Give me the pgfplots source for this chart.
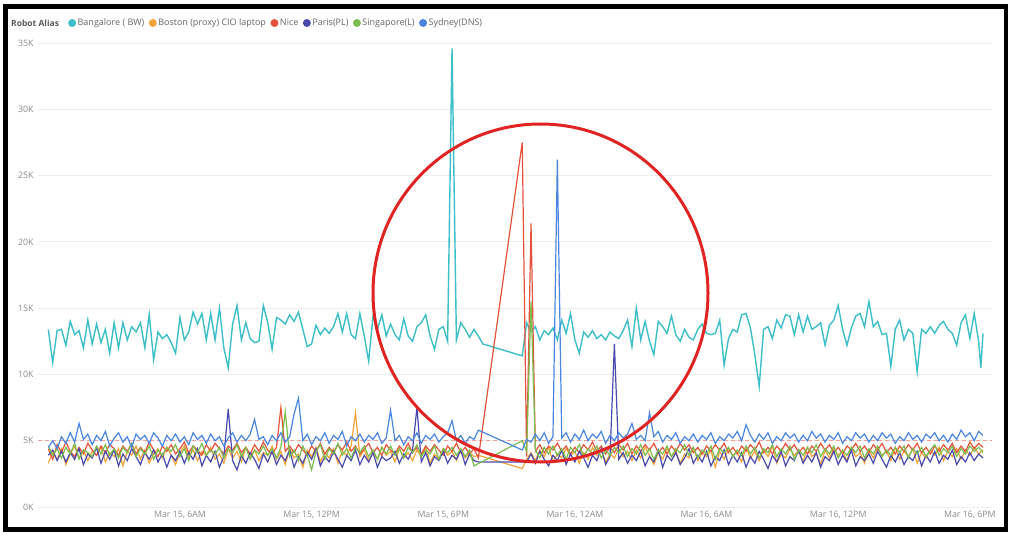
\documentclass[border=0pt]{standalone}
\usepackage{fontspec}
\setmainfont{Open Sans}
\usepackage{pgfplots}
\usepackage{pgfplotstable}
\pgfplotsset{compat=1.18}
\definecolor{cBang}{HTML}{3CBFC8}
\definecolor{cBos}{HTML}{F3A43B}
\definecolor{cNice}{HTML}{E5533C}
\definecolor{cPar}{HTML}{4A4AAE}
\definecolor{cSin}{HTML}{7CBD4F}
\definecolor{cSyd}{HTML}{4A86E0}
\definecolor{cRing}{HTML}{E02424}
\definecolor{cRef}{HTML}{F2A09A}

\pgfplotstableread{
t b o n p s y
0.0 13.4 3.3 4.4 3.9 4.6 4.5
0.2 10.9 4.1 3.6 4.3 3.9 5.0
0.4 13.3 3.6 4.7 3.5 4.4 4.4
0.6 13.4 4.4 4.1 4.2 3.7 5.3
0.8 12.2 3.2 4.9 3.4 4.5 4.8
1.0 14.0 4.0 4.2 4.1 4.0 5.6
1.2 13.0 4.6 3.8 3.6 4.8 4.9
1.4 13.3 3.7 4.5 4.4 3.6 6.3
1.6 12.0 4.3 4.0 3.2 4.3 5.1
1.8 14.1 3.5 4.8 4.0 4.1 5.5
2.0 12.3 4.2 4.3 3.7 3.8 4.7
2.2 13.8 3.9 3.9 4.5 4.6 5.4
2.4 12.4 4.5 4.6 3.3 4.0 5.0
2.6 13.4 3.4 4.1 4.2 4.7 5.7
2.8 11.6 4.1 4.7 3.6 3.9 4.6
3.0 13.9 3.8 4.4 4.3 4.4 5.2
3.2 12.0 4.4 3.9 3.1 3.7 5.6
3.4 13.9 3.1 4.6 4.0 4.5 4.9
3.6 12.6 4.2 4.2 3.5 4.1 5.3
3.8 13.6 3.9 4.8 4.4 4.8 4.5
4.0 13.2 4.6 4.0 3.8 3.8 5.5
4.2 13.9 3.6 4.5 3.2 4.4 5.1
4.4 12.0 4.3 4.1 4.1 4.0 5.4
4.6 14.5 3.3 4.9 3.6 4.6 4.8
4.8 11.1 4.0 4.3 4.3 3.6 5.6
5.0 13.2 4.4 3.8 3.4 4.3 5.2
5.2 12.7 3.7 4.6 4.0 3.9 4.6
5.4 13.0 4.5 4.2 3.0 4.5 5.4
5.6 12.4 3.9 4.7 3.9 4.2 5.0
5.8 11.6 3.2 4.0 3.5 4.7 5.5
6.0 14.3 4.1 4.4 4.2 3.8 4.9
6.2 12.6 4.6 4.9 3.3 4.4 5.3
6.4 13.2 3.8 4.1 4.1 3.5 4.7
6.6 14.7 4.3 4.6 3.6 4.6 5.6
6.8 13.8 3.5 4.3 4.4 4.1 5.1
7.0 14.6 4.2 3.9 3.1 4.8 5.4
7.2 12.6 3.9 4.7 3.9 3.9 4.8
7.4 14.6 4.5 4.2 3.4 4.3 5.5
7.6 12.6 3.6 4.8 4.2 4.0 5.0
7.8 15.0 4.0 4.4 3.0 4.5 5.3
8.0 12.0 3.3 4.0 3.8 3.7 4.6
8.2 10.5 4.4 4.6 7.4 4.4 5.2
8.4 13.8 3.7 4.3 3.5 4.1 5.6
8.6 15.2 4.2 4.8 2.8 4.7 4.9
8.8 12.6 3.4 4.1 3.9 3.8 5.4
9.0 13.9 4.5 4.5 3.3 4.5 5.0
9.2 12.7 3.8 4.0 4.1 3.6 5.5
9.4 12.4 4.3 4.7 3.6 4.3 6.6
9.6 12.5 3.5 4.2 2.9 4.0 5.1
9.8 15.2 4.1 4.9 4.0 4.6 5.3
10.0 13.9 3.9 4.3 3.4 3.9 4.7
10.2 11.9 4.6 4.0 4.2 4.4 5.4
10.4 14.3 3.6 4.5 3.2 3.7 5.0
10.6 14.1 4.2 7.5 3.9 4.5 5.6
10.8 13.8 3.2 4.2 3.5 7.2 4.9
11.0 14.5 4.4 4.6 4.3 3.8 5.3
11.2 14.0 3.7 4.1 3.0 4.3 7.0
11.4 14.7 4.0 4.7 3.8 3.5 8.2
11.6 13.4 3.0 4.3 3.3 4.6 5.0
11.8 12.1 4.3 3.9 4.1 3.9 5.5
12.0 12.3 3.8 4.6 3.6 2.8 4.7
12.2 13.7 4.5 4.2 4.4 4.2 5.3
12.4 13.0 3.4 4.8 3.1 4.7 5.0
12.6 13.5 4.1 4.0 3.8 3.6 5.6
12.8 13.1 3.7 4.5 3.4 4.4 4.8
13.0 13.6 4.4 4.1 4.2 4.0 5.4
13.2 14.6 3.3 4.7 3.6 4.8 5.1
13.4 13.2 4.2 4.3 3.0 3.9 5.7
13.6 14.6 3.9 4.9 3.9 4.4 4.6
13.8 13.0 4.6 4.2 3.5 3.7 5.3
14.0 12.7 7.1 4.6 4.3 4.5 5.0
14.2 14.6 3.8 4.0 3.2 4.1 5.5
14.4 12.9 4.3 4.4 3.9 4.6 4.9
14.6 11.0 3.5 4.8 3.4 3.8 5.4
14.8 14.4 4.1 4.1 4.1 4.3 5.1
15.0 13.4 3.6 4.5 3.0 3.6 5.6
15.2 14.5 4.5 3.9 3.8 4.5 4.8
15.4 12.9 3.9 4.7 3.5 4.0 5.2
15.6 13.8 4.2 4.3 3.7 4.6 7.3
15.8 13.0 3.4 4.0 4.2 3.9 5.0
16.0 12.6 4.4 4.6 3.3 4.4 5.4
16.2 14.2 3.7 4.2 4.0 3.7 4.7
16.4 12.9 4.1 4.8 3.6 4.5 5.3
16.6 12.5 3.5 4.1 4.3 4.1 5.0
16.8 13.6 4.3 4.5 7.5 4.7 5.6
17.0 13.9 3.8 4.0 3.4 3.8 4.8
17.2 14.5 4.5 4.6 4.1 4.3 5.4
17.4 12.9 3.3 4.2 3.1 4.0 5.1
17.6 11.9 4.0 4.7 3.8 4.6 5.5
17.8 13.4 3.6 4.3 3.5 3.6 4.9
18.0 13.6 4.4 3.9 4.2 4.4 5.3
18.2 12.5 3.9 4.6 3.3 4.1 5.6
18.4 34.6 4.2 4.2 3.9 4.5 6.5
18.6 12.6 3.5 4.8 3.6 3.9 5.0
18.8 13.9 4.3 4.1 4.3 4.4 5.4
19.0 13.4 3.7 4.5 3.2 3.8 4.8
19.2 12.8 4.1 4.0 4.0 4.3 5.3
19.4 13.4 3.8 4.4 3.5 3.1 5.1
19.6 12.9 3.9 3.7 3.4 nan 5.8
19.8 12.3 nan nan nan nan nan
21.6 11.4 2.9 27.5 nan 5.0 4.3
21.8 13.9 3.6 3.8 3.4 4.2 5.1
22.0 13.2 4.1 21.4 4.0 15.5 4.9
22.2 13.6 3.5 4.2 3.3 4.3 5.5
22.4 12.6 4.3 4.7 4.2 3.7 5.0
22.6 13.3 3.8 4.1 3.6 4.5 5.6
22.8 13.0 4.5 4.6 3.1 4.0 4.8
23.0 13.5 3.4 4.3 3.9 4.6 5.3
23.2 12.6 4.0 4.8 3.5 3.9 26.2
23.4 14.1 3.7 4.2 4.3 4.4 5.2
23.6 13.1 4.4 4.6 3.2 3.6 5.6
23.8 14.6 3.9 4.0 4.0 4.5 4.9
24.0 12.6 4.2 4.5 3.4 4.1 5.5
24.2 11.6 3.3 4.1 4.2 4.7 5.1
24.4 13.2 4.1 4.7 3.7 3.8 5.8
24.6 12.8 3.6 4.3 3.0 4.4 5.0
24.8 13.3 4.5 4.9 3.9 4.0 5.5
25.0 12.7 3.9 4.2 3.5 4.6 5.2
25.2 13.0 4.3 4.6 4.4 3.7 5.7
25.4 12.6 3.4 4.0 3.2 4.3 4.8
25.6 13.2 4.0 4.5 3.8 3.9 5.4
25.8 12.9 3.7 4.1 12.3 4.5 5.0
26.0 12.7 4.4 4.7 3.6 4.1 5.6
26.2 13.3 3.8 4.3 4.1 4.6 5.2
26.4 14.1 4.2 4.8 3.3 3.8 5.5
26.6 12.1 3.5 4.0 3.9 4.4 6.3
26.8 15.0 4.3 4.6 3.5 4.0 5.1
27.0 12.6 3.7 4.2 4.2 4.7 5.4
27.2 14.0 4.5 4.7 3.1 3.9 5.0
27.4 12.5 3.9 4.3 3.8 4.4 7.1
27.6 11.5 3.2 4.8 3.4 3.6 5.3
27.8 14.0 4.1 4.1 4.3 4.3 5.7
28.0 13.6 3.6 4.5 3.0 4.0 4.9
28.2 13.1 4.4 4.0 3.9 4.6 5.4
28.4 14.4 3.8 4.6 3.5 3.8 5.1
28.6 13.0 4.2 4.2 4.1 4.4 5.6
28.8 12.5 3.3 4.8 3.2 4.1 4.8
29.0 13.4 4.0 4.3 3.7 4.7 5.3
29.2 12.8 3.7 4.7 4.4 3.9 5.0
29.4 12.6 4.5 4.1 3.3 4.5 5.5
29.6 13.4 3.5 4.5 3.9 3.7 4.9
29.8 13.8 4.1 4.0 3.4 4.3 5.4
30.0 13.1 3.8 4.6 4.2 4.0 5.1
30.2 13.0 4.3 4.2 3.1 4.6 5.6
30.4 13.1 3.0 4.7 3.8 3.6 4.8
30.6 14.1 4.2 4.3 3.5 4.4 5.3
30.8 10.7 3.6 4.8 4.3 4.1 5.0
31.0 12.7 4.4 4.1 3.2 4.5 5.5
31.2 13.4 3.9 4.5 3.9 3.8 5.2
31.4 13.2 4.1 4.0 3.4 4.3 5.7
31.6 14.5 3.4 4.6 4.1 3.9 5.0
31.8 14.6 4.5 4.2 3.0 4.6 6.2
32.0 13.5 3.7 4.7 3.8 4.0 5.4
32.2 11.5 4.2 4.3 3.3 4.5 4.9
32.4 9.1 3.5 4.9 4.2 3.7 5.5
32.6 13.4 4.3 4.1 3.6 4.4 5.1
32.8 13.6 3.8 4.5 2.9 4.1 5.6
33.0 12.7 4.6 4.0 3.9 4.7 4.8
33.2 14.1 3.3 4.6 3.4 3.8 5.3
33.4 13.5 4.0 4.2 4.2 4.4 5.0
33.6 14.5 3.7 4.8 3.1 4.0 5.6
33.8 14.4 4.4 4.3 3.8 4.6 5.2
34.0 13.0 3.9 4.7 3.5 3.6 5.5
34.2 14.5 4.2 4.1 4.3 4.3 4.9
34.4 13.2 3.4 4.5 3.3 3.9 5.4
34.6 14.4 4.5 4.0 3.9 4.5 5.0
34.8 13.4 3.8 4.6 3.4 4.1 5.7
35.0 13.6 4.1 4.2 4.1 4.7 5.2
35.2 13.9 3.2 4.8 3.0 3.8 5.5
35.4 12.2 4.3 4.3 3.8 4.4 4.9
35.6 13.7 3.7 4.7 3.5 4.0 5.4
35.8 14.1 4.4 4.1 4.2 4.6 5.1
36.0 15.2 3.9 4.5 3.2 3.7 5.6
36.2 13.4 4.2 4.0 3.9 4.3 4.8
36.4 12.2 3.5 4.6 3.4 3.9 5.3
36.6 13.5 4.5 4.3 4.3 4.5 5.0
36.8 14.4 3.8 4.8 3.1 4.1 5.6
37.0 14.6 4.1 4.2 3.8 4.6 5.2
37.2 13.6 3.3 4.6 3.5 3.7 5.5
37.4 15.5 4.3 4.1 4.0 4.4 4.9
37.6 13.6 3.7 4.7 3.3 4.0 5.4
37.8 14.0 4.4 4.3 4.2 4.6 5.0
38.0 13.0 3.9 4.8 3.6 3.8 5.6
38.2 13.1 4.2 4.1 3.0 4.3 5.2
38.4 10.6 3.5 4.5 3.9 3.9 5.5
38.6 13.4 4.5 4.0 3.4 4.5 4.8
38.8 14.1 3.6 4.6 4.1 4.1 5.3
39.0 12.6 4.2 4.2 3.2 4.6 5.0
39.2 13.4 3.8 4.7 3.8 3.7 5.6
39.4 13.1 4.4 4.3 3.5 4.4 5.1
39.6 10.2 3.3 4.8 4.2 4.0 5.4
39.8 13.4 4.1 4.1 3.1 4.5 4.9
40.0 13.1 3.7 4.5 3.9 3.8 5.5
40.2 13.6 4.3 4.0 3.4 4.3 5.2
40.4 13.1 3.9 4.6 4.2 4.7 5.6
40.6 13.7 4.5 4.2 3.3 3.9 5.0
40.8 14.0 3.5 4.7 3.9 4.4 5.4
41.0 13.4 4.2 4.3 3.6 4.1 4.9
41.2 13.1 3.8 4.8 4.3 4.6 5.5
41.4 12.2 4.4 4.1 3.2 3.8 5.1
41.6 13.9 3.6 4.6 3.8 4.4 5.8
41.8 14.5 4.3 4.2 3.4 4.0 5.3
42.0 12.7 3.9 4.9 4.1 4.6 5.6
42.2 14.6 4.5 4.4 3.5 4.2 5.0
42.4 12.5 4.0 4.8 4.0 4.5 5.7
42.5 10.5 nan nan nan nan nan
42.6 13.1 4.3 4.5 3.7 4.1 5.4
}\datatable

\begin{document}
\begin{tikzpicture}[x=1pt,y=1pt]
\useasboundingbox (0,0) rectangle (1017,536);
\fill[white] (0,0) rectangle (1017,536);
\node[anchor=west, inner sep=0pt, font=\bfseries\fontsize{8.5}{10}\selectfont, text=black!65] at (11,513) {Robot Alias};
\begin{axis}[
  at={(38pt,29pt)}, anchor=south west,
  scale only axis, width=954pt, height=464pt,
  xmin=-0.47, xmax=43.01, ymin=0, ymax=35,
  axis line style={draw=none},
  major tick length=0pt,
  ytick={0,5,10,15,20,25,30,35},
  yticklabels={0K,5K,10K,15K,20K,25K,30K,35K},
  xtick={6,12,18,24,30,36,42},
  xticklabels={{Mar 15, 6AM},{Mar 15, 12PM},{Mar 15, 6PM},{Mar 16, 12AM},{Mar 16, 6AM},{Mar 16, 12PM},{Mar 16, 6PM}},
  ymajorgrids,
  major grid style={color=black!7, line width=0.8pt},
  tick label style={font=\fontsize{8.8}{10}\selectfont, text=black!45},
  yticklabel style={xshift=-1pt},
  xticklabel style={yshift=-1pt},
  legend columns=-1,
  legend cell align=left,
  legend image code/.code={\fill[#1, draw=none] (4pt,0pt) circle (4pt);},
  legend style={draw=none, fill=none, at={(0.0314,1.0431)}, anchor=west, inner sep=0pt,
    font=\fontsize{9}{10}\selectfont, text=black!60,
    nodes={inner xsep=1.5pt, inner ysep=0pt},
    /tikz/every even column/.append style={column sep=3pt}},
]
\addplot[cRef, dashed, dash pattern=on 4pt off 3pt, line width=1.1pt, forget plot] coordinates {(-0.47,5) (43.01,5)};
\addplot[cBang, line width=1.4pt] table[x=t, y=b] {\datatable};
\addlegendentry{Bangalore ( BW)}
\addplot[cBos, line width=1.2pt] table[x=t, y=o] {\datatable};
\addlegendentry{Boston (proxy) CIO laptop}
\addplot[cNice, line width=1.2pt] table[x=t, y=n] {\datatable};
\addlegendentry{Nice}
\addplot[cPar, line width=1.2pt] table[x=t, y=p] {\datatable};
\addlegendentry{Paris(PL)}
\addplot[cSin, line width=1.2pt] table[x=t, y=s] {\datatable};
\addlegendentry{Singapore(L)}
\addplot[cSyd, line width=1.2pt] table[x=t, y=y] {\datatable};
\addlegendentry{Sydney(DNS)}
\end{axis}
\draw[cRing, line width=3pt] (540.5,243) ellipse (167.5 and 169);
\draw[black, line width=4.5pt] (5.5,6.5) rectangle (1006,529.5);
\end{tikzpicture}
\end{document}
